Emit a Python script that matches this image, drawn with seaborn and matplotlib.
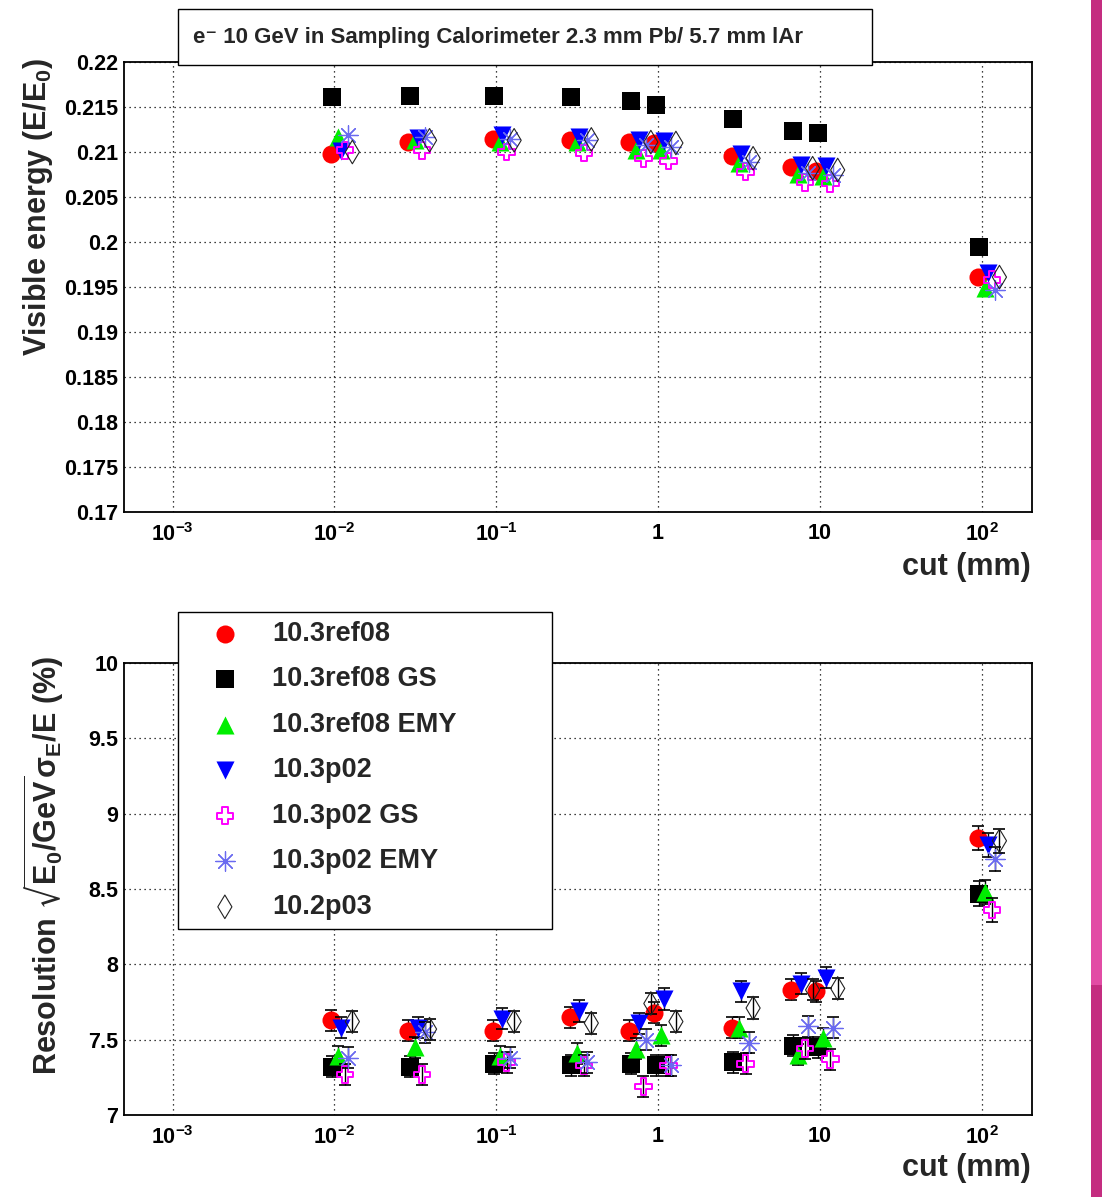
import numpy as np
import pandas as pd
import seaborn as sns
import matplotlib.pyplot as plt
from matplotlib.patches import Rectangle
from matplotlib.ticker import MultipleLocator, LogLocator, FuncFormatter, NullFormatter

# cut values (mm)
cuts = [0.01, 0.03, 0.1, 0.3, 0.7, 1, 3, 7, 10, 100]

names = ["10.3ref08", "10.3ref08 GS", "10.3ref08 EMY", "10.3p02",
         "10.3p02 GS", "10.3p02 EMY", "10.2p03"]

# visible energy E/E0
vis_ref08 = [0.2098, 0.2111, 0.2114, 0.2113, 0.2111, 0.2110, 0.2096, 0.2083, 0.2079, 0.1961]
vis_ref08_gs = [0.2161, 0.2162, 0.2162, 0.2161, 0.2157, 0.2152, 0.2137, 0.2123, 0.2121, 0.1995]
vis_ref08_emy = [0.2117, 0.2113, 0.2111, 0.2111, 0.2102, 0.2102, 0.2088, 0.2076, 0.2073, 0.1949]
vis_p02 = [0.2101, 0.2116, 0.2119, 0.2117, 0.2113, 0.2112, 0.2098, 0.2086, 0.2084, 0.1966]
vis_p02_gs = [0.2102, 0.2102, 0.2100, 0.2099, 0.2093, 0.2090, 0.2078, 0.2066, 0.2065, 0.1958]
vis_p02_emy = [0.2119, 0.2117, 0.2115, 0.2113, 0.2108, 0.2106, 0.2089, 0.2077, 0.2075, 0.1947]
vis_p03 = [0.2100, 0.2113, 0.2113, 0.2114, 0.2111, 0.2110, 0.2093, 0.2082, 0.2080, 0.1961]

# resolution (%)
res_ref08 = [7.63, 7.56, 7.56, 7.65, 7.56, 7.68, 7.58, 7.83, 7.82, 8.84]
res_ref08_gs = [7.32, 7.32, 7.34, 7.33, 7.34, 7.33, 7.35, 7.46, 7.45, 8.47]
res_ref08_emy = [7.39, 7.45, 7.39, 7.41, 7.44, 7.53, 7.58, 7.40, 7.51, 8.48]
res_p02 = [7.58, 7.58, 7.64, 7.69, 7.61, 7.77, 7.82, 7.87, 7.91, 8.79]
res_p02_gs = [7.27, 7.27, 7.35, 7.33, 7.19, 7.33, 7.34, 7.44, 7.37, 8.36]
res_p02_emy = [7.38, 7.55, 7.38, 7.35, 7.50, 7.33, 7.48, 7.59, 7.58, 8.70]
res_p03 = [7.62, 7.57, 7.62, 7.61, 7.74, 7.62, 7.71, 7.83, 7.84, 8.82]
res_err = [0.07, 0.07, 0.07, 0.07, 0.07, 0.07, 0.07, 0.07, 0.07, 0.08]

vis_all = [vis_ref08, vis_ref08_gs, vis_ref08_emy, vis_p02, vis_p02_gs, vis_p02_emy, vis_p03]
res_all = [res_ref08, res_ref08_gs, res_ref08_emy, res_p02, res_p02_gs, res_p02_emy, res_p03]

# styles (ROOT-like markers), small horizontal shift per series
colors = ["#ff0000", "#000000", "#00ee00", "#0000ff", "#ff00ff", "#6a6af0", "#222222"]
markers = ["o", "s", "^", "v", "P", (8, 2, 0), "d"]
sizes = [13, 12.5, 13, 13, 12, 14, 12]
faces = ["#ff0000", "#000000", "#00ee00", "#0000ff", "none", "#6a6af0", "none"]
lws = [0, 0, 0, 0, 1.4, 0.9, 0.8]
shifts = [0.95, 0.97, 1.05, 1.09, 1.16, 1.21, 1.29]

sns.set_style("white")
plt.rcParams["font.family"] = ["Liberation Sans", "DejaVu Sans"]
plt.rcParams["font.weight"] = "bold"
plt.rcParams["mathtext.default"] = "regular"

W, H = 1102, 1197
fig = plt.figure(figsize=(W / 100, H / 100), dpi=100)
ax1 = fig.add_axes([124 / W, 1 - 512 / H, (1032 - 124) / W, 450 / H])
ax2 = fig.add_axes([124 / W, 1 - 1115 / H, (1032 - 124) / W, 452 / H])

for i, name in enumerate(names):
    x = np.array(cuts) * shifts[i]
    df = pd.DataFrame({"cut": x, "vis": vis_all[i], "res": res_all[i]})
    sns.scatterplot(data=df, x="cut", y="vis", ax=ax1, marker=markers[i],
                    s=sizes[i] ** 2, color=colors[i], facecolor=faces[i],
                    edgecolor=colors[i], linewidth=lws[i], zorder=3 + i, legend=False)
    ax2.errorbar(x, res_all[i], yerr=res_err, fmt="none", ecolor="black",
                 elinewidth=1, capsize=4, capthick=1.2, zorder=3 + i, label="_nolegend_")
    sns.scatterplot(data=df, x="cut", y="res", ax=ax2, marker=markers[i],
                    s=sizes[i] ** 2, color=colors[i], facecolor=faces[i],
                    edgecolor=colors[i], linewidth=lws[i], zorder=3 + i, label=name)


def xfmt(v, pos):
    e = int(round(np.log10(v)))
    if e == 0:
        return "1"
    if e == 1:
        return "10"
    return "10$^{%d}$" % e


for ax, lo, hi, step in [(ax1, 0.17, 0.22, 0.005), (ax2, 7, 10, 0.5)]:
    ax.set_xscale("log")
    ax.set_xlim(5e-4, 205)
    ax.set_ylim(lo, hi)
    ax.yaxis.set_major_locator(MultipleLocator(step))
    ax.yaxis.set_major_formatter(FuncFormatter(lambda v, p: "%g" % round(v, 4)))
    ax.xaxis.set_major_locator(LogLocator(base=10, numticks=10))
    ax.xaxis.set_minor_locator(LogLocator(base=10, subs=np.arange(2, 10), numticks=20))
    ax.xaxis.set_major_formatter(FuncFormatter(xfmt))
    ax.xaxis.set_minor_formatter(NullFormatter())
    ax.grid(True, which="major", linestyle=(0, (1, 3)), color="black", linewidth=0.9)
    ax.tick_params(which="both", direction="in", labelsize=15.5, colors="black")
    ax.tick_params(axis="y", which="major", length=19, width=1, pad=4)
    ax.tick_params(axis="x", which="major", length=13, width=1, pad=8)
    ax.tick_params(axis="x", which="minor", length=6, width=1)
    ax.set_xlabel("")
    ax.set_ylabel("")
    for sp in ax.spines.values():
        sp.set_color("black")
        sp.set_linewidth(1.3)

# axis titles
fig.text(38 / W, 1 - 58 / H, "Visible energy (E/E$_0$)", rotation=90, ha="center",
         va="top", fontsize=22, fontweight="bold")
fig.text(44 / W, 1 - 656 / H, r"Resolution $\sqrt{E_0/GeV}\sigma_E$/E (%)", rotation=90,
         ha="center", va="top", fontsize=22, fontweight="bold")
fig.text(1031 / W, 1 - 567 / H, "cut (mm)", ha="right", va="center", fontsize=22, fontweight="bold")
fig.text(1031 / W, 1 - 1168 / H, "cut (mm)", ha="right", va="center", fontsize=22, fontweight="bold")

# title box
fig.add_artist(Rectangle((178 / W, 1 - 65 / H), 694 / W, 56 / H, transform=fig.transFigure,
                         facecolor="white", edgecolor="black", linewidth=1, zorder=10))
fig.text(193 / W, 1 - 37 / H, "e\u207b 10 GeV in Sampling Calorimeter 2.3 mm Pb/ 5.7 mm lAr",
         ha="left", va="center", fontsize=16, fontweight="bold", zorder=11)

# legend
leg = ax2.legend(loc="upper left", bbox_to_anchor=(178 / W, 1 - 928 / H, 374 / W, 316 / H),
                 bbox_transform=fig.transFigure, mode="expand", borderaxespad=0,
                 fontsize=19.5, frameon=True, fancybox=False, framealpha=1,
                 edgecolor="black", borderpad=0.33, handlelength=2.8,
                 handletextpad=0.34, labelspacing=0.72, scatterpoints=1)
leg.get_frame().set_linewidth(1)
leg.set_zorder(20)
for t in leg.get_texts():
    t.set_fontweight("bold")

# slide decoration strip on the right
fig.add_artist(Rectangle((1091 / W, 0), 11 / W, 1, transform=fig.transFigure,
                         facecolor="#c42d80", edgecolor="none"))
fig.add_artist(Rectangle((1091 / W, 1 - 985 / H), 11 / W, 445 / H, transform=fig.transFigure,
                         facecolor="#e24ca5", edgecolor="none"))

fig.savefig("out.png", dpi=100)
